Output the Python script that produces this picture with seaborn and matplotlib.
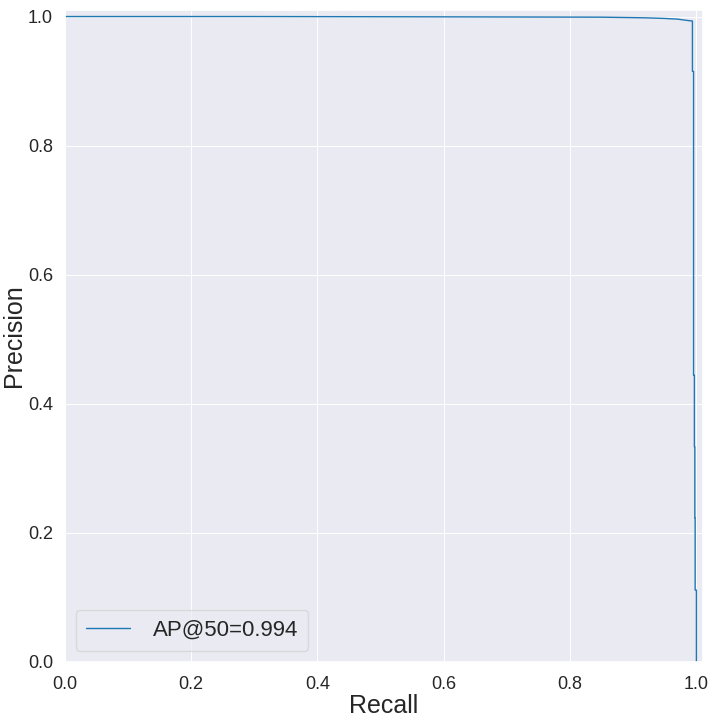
import matplotlib
matplotlib.use('Agg')
import matplotlib.pyplot as plt
import seaborn as sns
import pandas as pd

# PR curve points
recall = [0.0, 0.30, 0.60, 0.85, 0.92, 0.95, 0.97, 0.985, 0.9937, 0.9937,
          0.9955, 0.9955, 0.9968, 0.9968, 0.9975, 0.9975, 0.9980, 0.9980, 1.0, 1.0]
precision = [1.0, 1.0, 0.9995, 0.999, 0.998, 0.997, 0.996, 0.994, 0.993, 0.915,
             0.915, 0.444, 0.444, 0.333, 0.333, 0.223, 0.223, 0.111, 0.111, 0.0]
label = 'AP@50=0.994'

sns.set_theme(style='darkgrid', rc={'grid.linewidth': 0.7})
plt.rcParams['font.family'] = ['Liberation Sans', 'DejaVu Sans']

df = pd.DataFrame({'Recall': recall, 'Precision': precision})

fig = plt.figure(figsize=(7.2, 7.2), dpi=100)
ax = fig.add_axes([0.090, 0.081, 0.886, 0.905])
sns.lineplot(data=df, x='Recall', y='Precision', sort=False, estimator=None,
             color='#1f77b4', lw=1, label=label, ax=ax)

ax.set_xlim(0, 1.01)
ax.set_ylim(0, 1.01)
ax.set_xlabel('Recall', fontsize=18, labelpad=1)
ax.set_ylabel('Precision', fontsize=18, labelpad=1)
ax.tick_params(labelsize=13, pad=4)
ax.tick_params(axis='y', pad=2.5)
ax.legend(loc='lower left', fontsize=16, handlelength=2.0, borderpad=0.45,
          handletextpad=1.0, framealpha=0.6)

plt.savefig('out.png', dpi=100)
